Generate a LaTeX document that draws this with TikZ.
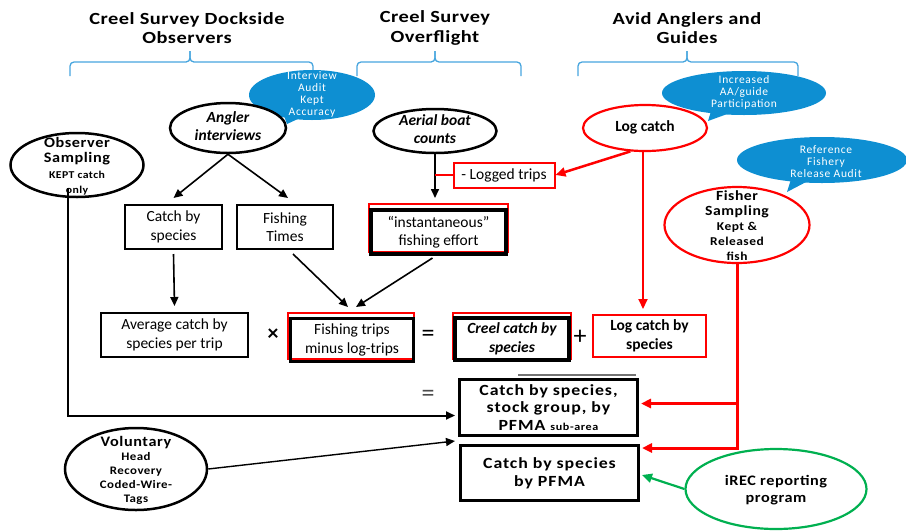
\documentclass[tikz,border=0pt]{standalone}
\usepackage{fontspec}
\setmainfont{Carlito}
\newfontfamily\hdrfont[FakeStretch=1.2,LetterSpace=3]{Carlito}
\newfontfamily\widefont[FakeStretch=1.12,LetterSpace=4]{Carlito}
\newfontfamily\boxwide[FakeStretch=1.15,LetterSpace=6]{Carlito}
\newfontfamily\bubfont[LetterSpace=6]{Carlito}
\usetikzlibrary{shapes.geometric,arrows.meta,calc,backgrounds}
\definecolor{bubblec}{RGB}{14,143,210}
\definecolor{bracec}{RGB}{70,165,222}
\definecolor{redl}{RGB}{255,0,0}
\definecolor{greenl}{RGB}{0,176,80}
\newcommand\bxf{\fontsize{15.5}{18.5}\selectfont}
\newcommand\smallb{\fontsize{10.5}{12.5}\selectfont}
\newcommand\fishb{\fontsize{12}{13.2}\selectfont}
\newcommand\volb{\fontsize{11.5}{12.5}\selectfont}
\begin{document}
\begin{tikzpicture}[x=1pt,y=-1pt,
  hdr/.style={align=center,inner sep=0,font=\bfseries\hdrfont\fontsize{17}{19.5}\selectfont},
  bracket/.style={draw=bracec,line width=1.3pt,rounded corners=4pt},
  bubble/.style={ellipse,fill=bubblec,inner sep=0},
  bubbletxt/.style={text=white,align=center,inner sep=0,font=\bubfont\fontsize{11.5}{12}\selectfont},
  box/.style={draw,line width=2pt,inner sep=0,align=center,font=\bxf},
  heavybox/.style={box,line width=4pt},
  midbox/.style={box,line width=3pt},
  redbox/.style={box,draw=redl},
  oval/.style={ellipse,draw,fill=white,line width=2.5pt,inner sep=0},
  redoval/.style={oval,draw=redl,line width=2.2pt},
  greenoval/.style={oval,draw=greenl,line width=2.2pt},
  lbl/.style={align=center,inner sep=0},
  offset/.style={draw=redl,line width=2pt},
  conn/.style={draw,line width=1.6pt,-{Triangle[length=9pt,width=8pt]}},
  redconn/.style={draw=redl,line width=2.5pt,-{Triangle[length=10pt,width=9pt]}},
  greenconn/.style={draw=greenl,line width=2.2pt,-{Triangle[length=10pt,width=9pt]}},
  op/.style={inner sep=0,font=\fontsize{26}{26}\selectfont}
]
\useasboundingbox (0,0) rectangle (906,531);

% column headings
\node[hdr] (hdock) at (187,28) {Creel Survey Dockside\\Observers};
\node[hdr] (hfly)  at (435,28) {Creel Survey\\Overflight};
\node[hdr] (havid) at (687,28) {Avid Anglers and\\Guides};

% brackets under the headings
\draw[bracket] (70,76) -- (70,62) -- (190,62) -- (190,51);
\draw[bracket] (190,51) -- (190,62) -- (313,62) -- (313,76);
\draw[bracket] (357,76) -- (357,62) -- (435,62) -- (435,51);
\draw[bracket] (435,51) -- (435,62) -- (521,62) -- (521,76);
\draw[bracket] (578,76) -- (578,62) -- (687,62) -- (687,51);
\draw[bracket] (687,51) -- (687,62) -- (798,62) -- (798,76);

% speech bubbles
\node[bubble,minimum width=126,minimum height=50] (audit) at (312,95) {};
\fill[bubblec] (283,113) -- (287,124) -- (300,118) -- cycle;
\node[bubbletxt] (audit-t) at (312,94) {Interview\\Audit\\Kept\\Accuracy};

\node[bubble,minimum width=164,minimum height=44] (aapart) at (744,93) {};
\fill[bubblec] (712,108) -- (708,121) -- (730,113) -- cycle;
\node[bubbletxt] (aapart-t) at (744,92) {Increased\\AA/guide\\Participation};

\node[bubble,minimum width=170,minimum height=46] (refaud) at (822,160) {};
\fill[bubblec] (792,176) -- (787,192) -- (808,181) -- cycle;
\node[bubbletxt] (refaud-t) at (826,162) {Reference\\Fishery\\Release Audit};

% source ovals
\node[oval,minimum width=133,minimum height=64] (obs) at (77,165) {};
\node[lbl,font=\bfseries\widefont\fontsize{14.5}{15.5}\selectfont] (obs-t) at (77,166)
  {Observer\\Sampling\\\smallb KEPT catch\\\smallb only};

\node[oval,minimum width=116,minimum height=50] (angler) at (228,128) {};
\node[lbl,font=\bfseries\itshape\bxf] (angler-t) at (228,126) {Angler\\interviews};

\node[oval,minimum width=123,minimum height=44] (aerial) at (435,131) {};
\node[lbl,font=\bfseries\itshape\bxf] (aerial-t) at (435,129) {Aerial boat\\counts};

\node[redoval,minimum width=124,minimum height=46] (logc) at (645,128) {};
\node[lbl,font=\bfseries\bxf] (logc-t) at (645,127) {Log catch};

\node[redoval,minimum width=145,minimum height=76] (fisher) at (737,225) {};
\node[lbl,font=\bfseries\widefont\fontsize{14}{15}\selectfont] (fisher-t) at (737,226)
  {Fisher\\Sampling\\\fishb Kept \&\\\fishb Released\\\fishb fish};

\node[oval,minimum width=142,minimum height=82] (vol) at (136,469) {};
\node[lbl,font=\bfseries\widefont\fontsize{14.5}{14}\selectfont] (vol-t) at (136,470)
  {Voluntary\\\volb Head\\\volb Recovery\\\volb Coded-Wire-\\\volb Tags};

\node[greenoval,minimum width=181,minimum height=80] (irec) at (776,489) {};
\node[lbl,font=\bfseries\widefont\fontsize{14.5}{16.5}\selectfont] (irec-t) at (776,490) {iREC reporting\\program};

% intermediate boxes
\node[box,minimum width=97,minimum height=44] (cbs) at (173.5,227) {Catch by\\species};
\node[box,minimum width=96,minimum height=44] (ft) at (285,227) {Fishing\\Times};
\node[heavybox,minimum width=135,minimum height=44] (inst) at (438.5,232) {“instantaneous”\\fishing effort};
\node[redbox,minimum width=101,minimum height=25] (logged) at (504,175) {- Logged trips};

% equation row
\node[box,minimum width=147,minimum height=44] (avg) at (174.5,335) {Average catch by\\species per trip};
\node[op,font=\bfseries\fontsize{22}{22}\selectfont] (times) at (273,335) {×};
\node[midbox,minimum width=123,minimum height=43] (trips) at (352,340) {Fishing trips\\minus log-trips};
\node[op] (eq1) at (428,336) {=};
\node[heavybox,minimum width=114,minimum height=42,font=\bfseries\itshape\bxf] (creel) at (512,339) {Creel catch by\\species};
\node[op] (plus) at (580,337) {+};
\node[redbox,minimum width=113,minimum height=42,font=\bfseries\bxf] (lcs) at (649.5,336) {Log catch by\\species};

% results
\node[op,text=black!70] (eq2) at (428,396) {=};
\node[midbox,minimum width=178,minimum height=56,font=\bfseries\boxwide\fontsize{15.5}{17.5}\selectfont] (sub) at (548.5,407.5)
  {Catch by species,\\stock group, by\\PFMA {\fontsize{10.5}{12}\selectfont sub-area}};
\node[midbox,minimum width=178,minimum height=55,font=\bfseries\boxwide\fontsize{15.5}{18}\selectfont] (pfma) at (549.5,473) {Catch by species\\by PFMA};
\draw[black!55,line width=2pt] ($(sub.north east)+(-3,-3)$) -- ($(sub.north)+(-31,-3)$);

% red offset outlines behind the heavy boxes
\begin{scope}[on background layer]
  \draw[offset] ([yshift=4pt]inst.north west) rectangle ([yshift=4pt]inst.south east);
  \draw[offset] ([xshift=-1.5pt,yshift=4pt]trips.north west) rectangle ([xshift=-1.5pt,yshift=4pt]trips.south east);
  \draw[offset] ([yshift=3pt]creel.north west) rectangle ([yshift=3pt]creel.south east);
\end{scope}

% connectors
\draw[conn] (angler.south) -- ([yshift=6pt]cbs.north);
\draw[conn] (angler.south) -- ([xshift=3pt,yshift=6pt]ft.north);
\draw[conn] (aerial.south) -- ([yshift=10pt]aerial.south |- inst.north);
\draw[offset] (logged.west) -- (logged.west -| aerial.south);
\draw[redconn] (logc.-122) -- (logged.east);
\draw[conn] ([yshift=-4pt]cbs.south) -- ([yshift=6pt]avg.north);
\draw[conn] ([xshift=8pt,yshift=-4pt]ft.south) -- ([xshift=-4pt,yshift=10pt]trips.north);
\draw[conn] ([xshift=-6pt,yshift=-2pt]inst.south) -- ([xshift=4pt,yshift=10pt]trips.north);
\draw[redconn,line width=2pt,shorten >=5pt] ([xshift=-2pt]logc.south) -- ([xshift=-2pt]logc.south |- lcs.north);

\coordinate (obsfoot) at (68,188);
\draw[conn,line width=2pt] (obsfoot) |- ([xshift=-3pt,yshift=-8pt]sub.west);
\draw[conn,line width=1.4pt] (vol.east) -- ([xshift=-3pt,yshift=-4pt]sub.south west);

\draw[redconn,line width=3pt] (fisher.south) |- ([xshift=2pt,yshift=-4pt]pfma.north east);
\draw[redconn,line width=3pt] ([yshift=4pt]fisher.south |- sub.east) -- ([xshift=2pt,yshift=4pt]sub.east);
\draw[greenconn] (irec.west) -- ([xshift=2pt,yshift=-2pt]pfma.east);
\end{tikzpicture}
\end{document}
